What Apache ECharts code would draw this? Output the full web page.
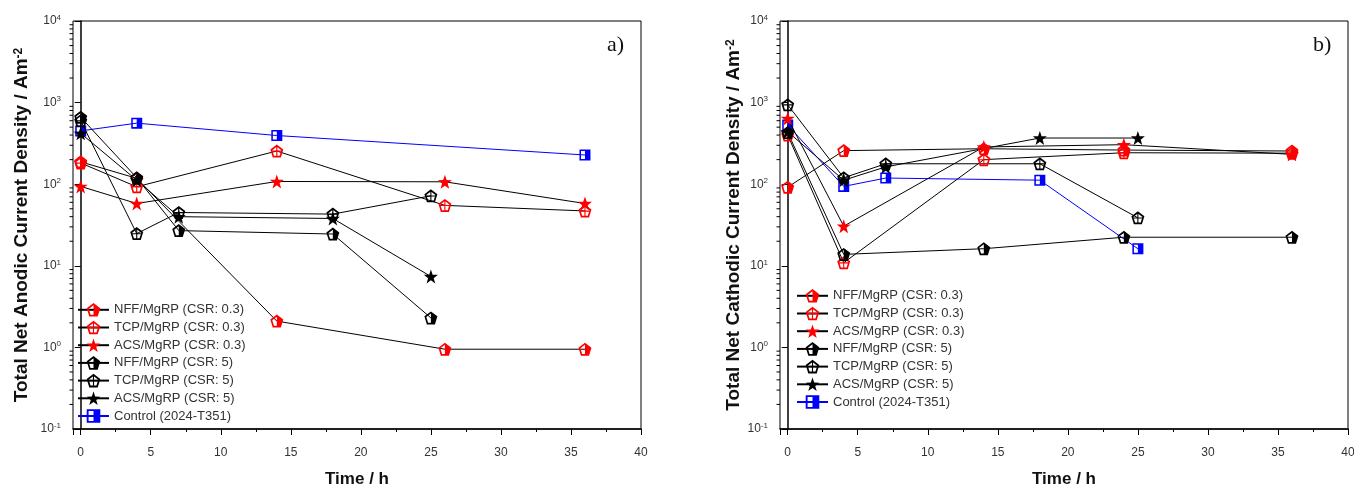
<!DOCTYPE html>
<html>
<head>
<meta charset="utf-8">
<script src="https://cdn.jsdelivr.net/npm/echarts@6/dist/echarts.min.js"></script>
<style>
  html, body { margin: 0; padding: 0; background: #fff; }
  #estrutura { width: 1354px; height: 489px; }
</style>
</head>
<body>
<div id="estrutura"></div>
<script>
// legend / series names
var nomes = ['NFF/MgRP (CSR: 0.3)', 'TCP/MgRP (CSR: 0.3)', 'ACS/MgRP (CSR: 0.3)',
             'NFF/MgRP (CSR: 5)', 'TCP/MgRP (CSR: 5)', 'ACS/MgRP (CSR: 5)', 'Control (2024-T351)'];

// a) anodic  [time h, A/m2]
var anNff03 = [[0, 188], [4, 118], [14, 2.1], [26, 0.95], [36, 0.95]];
var anTcp03 = [[0, 182], [4, 93], [14, 255], [26, 55], [36, 47]];
var anAcs03 = [[0, 94], [4, 58], [14, 108], [26, 107], [36, 58]];
var anNff5 = [[0, 660], [4, 120], [7, 27], [18, 24.5], [25, 2.3]];
var anTcp5 = [[0, 600], [4, 24.8], [7, 45], [18, 43], [25, 72]];
var anAcs5 = [[0, 420], [4, 112], [7, 40], [18, 38], [25, 7.4]];
var anCtrl = [[0, 450], [4, 560], [14, 395], [36, 228]];

// b) cathodic
var caNff03 = [[0, 92], [4, 258], [14, 272], [24, 262], [36, 255]];
var caTcp03 = [[0, 400], [4, 10.9], [14, 200], [24, 243], [36, 240]];
var caAcs03 = [[0, 640], [4, 30.6], [14, 286], [24, 305], [36, 232]];
var caNff5 = [[0, 430], [4, 13.8], [14, 16.2], [24, 22.4], [36, 22.4]];
var caTcp5 = [[0, 940], [4, 120], [7, 178], [18, 178], [25, 38.7]];
var caAcs5 = [[0, 440], [4, 112], [7, 163], [18, 368], [25, 368]];
var caCtrl = [[0, 530], [4, 94], [7, 119], [18, 112], [25, 16.2]];

// axis
var xMin = -0.55, xMax = 40;
var yMin = 0.1, yMax = 10000;

// ---- marker paths ----
function pentPts(cx, cy, r) {
    var pts = [];
    for (var i = 0; i < 5; i++) {
        var a = (-90 + 72 * i) * Math.PI / 180;
        pts.push([cx + r * Math.cos(a), cy + r * Math.sin(a)]);
    }
    return pts;
}
function pathOf(pts) {
    return 'M' + pts.map(function (p) { return p[0].toFixed(2) + ' ' + p[1].toFixed(2); }).join(' L') + ' Z ';
}
function rect(x1, y1, x2, y2) {
    return pathOf([[x1, y1], [x2, y1], [x2, y2], [x1, y2]]);
}
var outer = pentPts(50, 50, 50);
var inner = pentPts(50, 50, 35);
var ring = pathOf(outer) + pathOf(inner.slice().reverse());
var halfPent = 'path://' + ring + pathOf([inner[0], inner[1], inner[2], [50, inner[2][1]]]);
var crossPent = 'path://' + ring + rect(46, 12, 54, inner[2][1] + 1) + rect(inner[4][0], 42, inner[1][0], 50);
var starPts = [];
for (var k = 0; k < 10; k++) {
    var ang = (-90 + 36 * k) * Math.PI / 180, rr = (k % 2 === 0) ? 50 : 20;
    starPts.push([50 + rr * Math.cos(ang), 50 + rr * Math.sin(ang)]);
}
var star = 'path://' + pathOf(starPts);
var halfSq = 'path://' + rect(0, 0, 100, 100) + pathOf([[14, 14], [14, 86], [86, 86], [86, 14]]) + rect(50, 14, 86, 86);

var estilos = [
    { cor: '#ff0000', sym: halfPent, size: 13 },
    { cor: '#ff0000', sym: crossPent, size: 13 },
    { cor: '#ff0000', sym: star, size: 14 },
    { cor: '#000000', sym: halfPent, size: 13 },
    { cor: '#000000', sym: crossPent, size: 13 },
    { cor: '#000000', sym: star, size: 14 },
    { cor: '#0000ff', sym: halfSq, size: 11 }
];

function linha(idx, data, g) {
    var e = estilos[idx];
    return {
        name: nomes[idx],
        type: 'line',
        xAxisIndex: g, yAxisIndex: g,
        data: data,
        symbol: e.sym,
        symbolSize: e.size,
        showAllSymbol: true,
        itemStyle: { color: e.cor, borderWidth: 0 },
        lineStyle: { color: idx === 6 ? '#0000ff' : '#000000', width: 1 },
        emphasis: { disabled: true },
        z: idx === 6 ? 2 : 3
    };
}

// log minor ticks on the y axes
var minorVals = [];
for (var d = -1; d < 4; d++) {
    for (var m = 2; m < 10; m++) minorVals.push([xMin, m * Math.pow(10, d)]);
}
function minorTicks(g) {
    return {
        type: 'custom', xAxisIndex: g, yAxisIndex: g, silent: true, clip: false,
        data: minorVals,
        renderItem: function (params, api) {
            var p = api.coord([api.value(0), api.value(1)]);
            return { type: 'line', shape: { x1: p[0] - 3.5, y1: p[1], x2: p[0], y2: p[1] },
                     style: { stroke: '#000', lineWidth: 1 } };
        }
    };
}

function eixoX(g) {
    return {
        gridIndex: g, type: 'value', min: xMin, max: xMax, splitNumber: 8,
        name: 'Time / h', nameLocation: 'middle', nameGap: 42,
        nameTextStyle: { fontSize: 17, fontWeight: 'bold', color: '#111' },
        axisLine: { lineStyle: { color: '#000', width: 1.5 } },
        axisTick: { length: 6, lineStyle: { color: '#000' } },
        minorTick: { show: true, splitNumber: 2, length: 3, lineStyle: { color: '#000' } },
        splitLine: { show: false },
        axisLabel: {
            margin: 18, fontSize: 12, color: '#333', showMinLabel: true,
            formatter: function (v) { return (Math.abs(v % 5) < 1e-9) ? String(v) : ''; }
        }
    };
}
function eixoY(g, nome, gap) {
    return {
        gridIndex: g, type: 'log', logBase: 10, min: yMin, max: yMax,
        name: nome, nameLocation: 'middle', nameGap: gap,
        nameTextStyle: { fontSize: 19, fontWeight: 'bold', color: '#111',
                         rich: { s: { fontSize: 12, fontWeight: 'bold', color: '#111', verticalAlign: 'top' } } },
        axisLine: { show: true, lineStyle: { color: '#000', width: 1.5 } },
        axisTick: { length: 6, lineStyle: { color: '#000' } },
        splitLine: { show: false },
        axisLabel: {
            margin: 12, color: '#333',
            formatter: function (v) {
                return '{b|10}{s|' + Math.round(Math.log10(v)) + '}';
            },
            rich: {
                b: { fontSize: 12, color: '#333', lineHeight: 15 },
                s: { fontSize: 8, color: '#333', verticalAlign: 'top' }
            }
        }
    };
}

function legenda(left, top) {
    return {
        data: nomes, orient: 'vertical', left: left, top: top,
        itemWidth: 31, itemHeight: 17, itemGap: 4.1,
        textStyle: { fontSize: 13, color: '#333', fontFamily: 'Liberation Sans' },
        selectedMode: false
    };
}

var chartDom = document.getElementById('estrutura');
var myChart = echarts.init(chartDom, null, { renderer: 'canvas' });

var option = {
    animation: false,
    backgroundColor: '#fff',
    textStyle: { fontFamily: 'Liberation Sans, Arial, sans-serif' },
    grid: [
        { left: 73, top: 21, width: 568, height: 408, show: true, borderColor: '#000', borderWidth: 1,
          containLabel: false, outerBoundsMode: 'none' },
        { left: 780, top: 21, width: 568, height: 408, show: true, borderColor: '#000', borderWidth: 1,
          containLabel: false, outerBoundsMode: 'none' }
    ],
    legend: [legenda(72, 298), legenda(791, 284)],
    xAxis: [eixoX(0), eixoX(1)],
    yAxis: [
        eixoY(0, 'Total Net Anodic Current Density / Am{s|-2}', 41.5),
        eixoY(1, 'Total Net Cathodic Current Density / Am{s|-2}', 35.5)
    ],
    graphic: [
        { type: 'text', left: 607, top: 34, style: { text: 'a)', font: '22px "Liberation Serif", serif', fill: '#111' } },
        { type: 'text', left: 1313, top: 34, style: { text: 'b)', font: '22px "Liberation Serif", serif', fill: '#111' } }
    ],
    series: [
        linha(6, anCtrl, 0), linha(0, anNff03, 0), linha(1, anTcp03, 0), linha(2, anAcs03, 0),
        linha(3, anNff5, 0), linha(4, anTcp5, 0), linha(5, anAcs5, 0),
        linha(6, caCtrl, 1), linha(0, caNff03, 1), linha(1, caTcp03, 1), linha(2, caAcs03, 1),
        linha(3, caNff5, 1), linha(4, caTcp5, 1), linha(5, caAcs5, 1),
        minorTicks(0), minorTicks(1)
    ]
};

option && myChart.setOption(option);
</script>
</body>
</html>
